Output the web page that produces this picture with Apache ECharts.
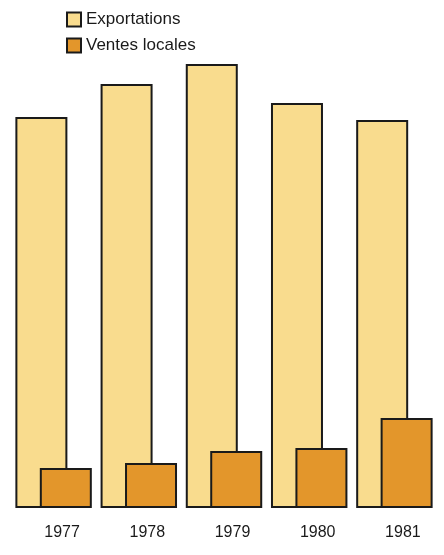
<!DOCTYPE html>
<html><head><meta charset="utf-8">
<script src="https://cdn.jsdelivr.net/npm/echarts@6/dist/echarts.min.js"></script>
<style>html,body{margin:0;padding:0;background:#fff}#c{width:444px;height:555px}</style>
</head><body><div id="c"></div>
<script>
const categories = ['1977', '1978', '1979', '1980', '1981'];
const exportations = [391, 424, 444, 405, 388];
const ventesLocales = [40, 45, 57, 60, 90];

const chart = echarts.init(document.getElementById('c'));
chart.setOption({
  animation: false,
  backgroundColor: '#ffffff',
  legend: {
    orient: 'vertical', left: 61, top: 6, itemWidth: 14, itemHeight: 14, itemGap: 9, icon: 'rect',
    textStyle: { fontFamily: 'Liberation Sans', fontSize: 17, color: '#1a1a1a' },
    data: ['Exportations', 'Ventes locales']
  },
  grid: { left: 11, right: 7, top: 0, bottom: 47 },
  xAxis: {
    type: 'category', data: categories,
    axisLine: { show: false }, axisTick: { show: false },
    axisLabel: { margin: 17, padding: [0, 0, 0, 17], fontFamily: 'Liberation Sans', fontSize: 16, color: '#1a1a1a' }
  },
  yAxis: { type: 'value', min: 0, max: 508, show: false, splitLine: { show: false } },
  series: [
    { name: 'Exportations', type: 'bar', data: exportations, barWidth: 52, barGap: '-53%',
      itemStyle: { color: '#F9DC8E', borderColor: '#1a1a1a', borderWidth: 2 } },
    { name: 'Ventes locales', type: 'bar', data: ventesLocales, barWidth: 52,
      itemStyle: { color: '#E3962B', borderColor: '#1a1a1a', borderWidth: 2 } }
  ]
});
</script></body></html>
